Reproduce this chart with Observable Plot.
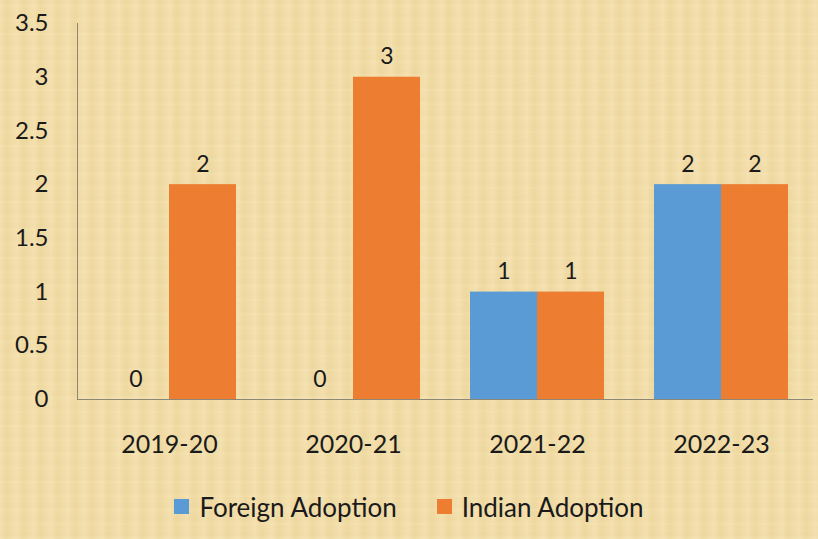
<!DOCTYPE html>
<html>
<head>
<meta charset="utf-8">
<script src="https://cdn.jsdelivr.net/npm/d3@7"></script>
<script src="https://cdn.jsdelivr.net/npm/@observablehq/plot@0.6"></script>
<style>
  html, body { margin: 0; padding: 0; }
  body {
    width: 818px; height: 539px; overflow: hidden;
    background-color: #F1DCA7;
    background-image:
      repeating-linear-gradient(90deg, rgba(255,240,200,0.25) 0px, rgba(255,240,200,0) 3px, rgba(220,190,120,0.12) 7px, rgba(255,240,200,0) 11px, rgba(255,245,215,0.18) 17px),
      repeating-linear-gradient(0deg, rgba(255,240,200,0.18) 0px, rgba(220,190,120,0.08) 5px, rgba(255,240,200,0) 9px, rgba(240,215,160,0.15) 14px);
    font-family: Lato, "Open Sans", sans-serif;
    color: #1a1a1a;
  }
  #legend {
    height: 65px; display: flex; align-items: center; justify-content: center;
    font-size: 26px;
  }
  .item { display: flex; align-items: center; }
  .sw { width: 15px; height: 15px; margin-right: 10px; }
</style>
</head>
<body>
<div id="chart"></div>
<div id="legend"></div>
<script>
const years = ["2019-20", "2020-21", "2021-22", "2022-23"];
const series = ["Foreign Adoption", "Indian Adoption"];
const foreign = [0, 0, 1, 2];
const indian = [2, 3, 1, 2];
const yTicks = [0, 0.5, 1, 1.5, 2, 2.5, 3, 3.5];
const colors = ["#5B9BD5", "#ED7D31"];

const data = [];
years.forEach((yr, i) => {
  data.push({year: yr, series: series[0], value: foreign[i]});
  data.push({year: yr, series: series[1], value: indian[i]});
});

const chart = Plot.plot({
  width: 818,
  height: 474,
  marginTop: 23,
  marginBottom: 75,
  marginLeft: 77,
  marginRight: 5,
  style: {background: "transparent", fontFamily: "Lato, 'Open Sans', sans-serif", fontSize: "24px", color: "#8c8676"},
  fx: {domain: years, padding: 0, label: null, tickSize: 0, tickPadding: 36, axis: "bottom"},
  x: {domain: series, paddingInner: 0, paddingOuter: 0.373, axis: null},
  y: {domain: [0, 3.5], ticks: yTicks, tickFormat: d => String(d), label: null, tickSize: 0, tickPadding: 29, line: true},
  color: {domain: series, range: colors},
  marks: [
    Plot.barY(data, {fx: "year", x: "series", y: "value", fill: "series"}),
    Plot.ruleY([0], {stroke: "#8c8676", strokeWidth: 1.2}),
    Plot.text(data, {fx: "year", x: "series", y: "value", text: d => String(d.value), dy: -13, lineAnchor: "bottom", fontSize: 23, fill: "#1a1a1a"})
  ]
});
chart.querySelectorAll("[aria-label='y-axis tick label'], [aria-label='fx-axis tick label']").forEach(g => g.setAttribute("fill", "#1a1a1a"));
chart.querySelectorAll("[aria-label='fx-axis tick label']").forEach(g => g.setAttribute("font-size", "25"));
document.getElementById("chart").appendChild(chart);

const legend = document.getElementById("legend");
series.forEach((s, i) => {
  const item = document.createElement("div");
  item.className = "item";
  if (i > 0) item.style.marginLeft = "40px";
  const sw = document.createElement("div");
  sw.className = "sw";
  sw.style.background = colors[i];
  const lab = document.createElement("span");
  lab.textContent = s;
  item.appendChild(sw);
  item.appendChild(lab);
  legend.appendChild(item);
});
</script>
</body>
</html>
